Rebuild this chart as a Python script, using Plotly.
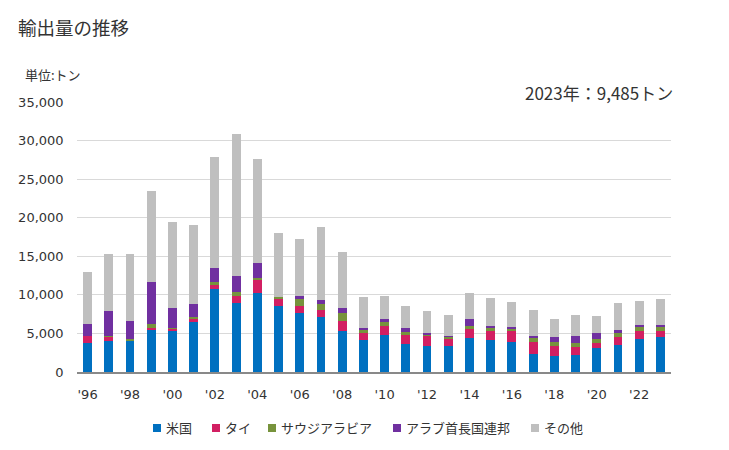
import plotly.graph_objects as go

years = list(range(1996, 2024))
usa = [3800, 4060, 4060, 5450, 5360, 6480, 10800, 8990, 10290, 8600, 7690, 7170, 5360, 4190,
       4840, 3670, 3410, 3330, 4380, 4130, 3870, 2320, 2060, 2230, 3090, 3520, 4300, 4560]
thai = [910, 560, 50, 300, 260, 430, 570, 910, 1680, 910, 910, 910, 1300, 910,
        1170, 1170, 1300, 990, 1210, 1200, 1420, 1550, 1290, 990, 650, 990, 990, 730]
saudi = [0, 90, 210, 520, 130, 260, 250, 510, 260, 260, 910, 780, 1030, 390,
         520, 390, 130, 260, 340, 340, 380, 510, 520, 520, 510, 520, 510, 510]
uae = [1560, 3240, 2340, 5440, 2590, 1690, 1910, 2080, 1940, 0, 390, 520, 650, 260,
       380, 520, 260, 130, 950, 260, 130, 260, 640, 900, 780, 380, 260, 260]
other = [6730, 7390, 8680, 11800, 11150, 10240, 14390, 18410, 13490, 8290, 7390, 9460, 7260, 4020,
         2990, 2850, 2850, 2720, 3300, 3610, 3220, 3350, 2320, 2710, 2190, 3490, 3090, 3425]

series_names = ["米国", "タイ", "サウジアラビア", "アラブ首長国連邦", "その他"]
series_values = [usa, thai, saudi, uae, other]
colors = ["#0070C0", "#D21F62", "#77933C", "#7030A0", "#BFBFBF"]

tick_years = list(range(1996, 2024, 2))
tick_labels = ["'" + str(y)[2:] for y in tick_years]

FONT = "DejaVu Sans, Noto Sans CJK JP"
JFONT = "Noto Sans CJK JP"
TXT = "#333333"
L, T, R, B = 77, 102, 671, 372
PW, PH = R - L, B - T


def px(x):
    return (x - L) / PW


def py(y):
    return (B - y) / PH


fig = go.Figure()
for name, vals, col in zip(series_names, series_values, colors):
    fig.add_trace(go.Bar(x=years, y=vals, name=name, marker_color=col,
                         marker_line_width=0, showlegend=False))

fig.update_layout(
    barmode="stack",
    bargap=0.58,
    width=729, height=450,
    margin=dict(l=L, r=729 - R, t=T, b=450 - B, autoexpand=False),
    paper_bgcolor="white", plot_bgcolor="white",
    font=dict(family=FONT, size=13, color=TXT),
    showlegend=False,
)

# custom legend (compact like the reference)
leg_sq_x = [153, 212, 268, 393, 531]
for name, col, sx in zip(series_names, colors, leg_sq_x):
    fig.add_shape(type="rect", xref="paper", yref="paper",
                  x0=px(sx), x1=px(sx + 8), y0=py(432), y1=py(424),
                  fillcolor=col, line_width=0)
    fig.add_annotation(text=name, xref="paper", yref="paper",
                       x=px(sx + 11), y=py(427), xanchor="left", yanchor="middle",
                       showarrow=False, font=dict(size=13, color=TXT, family=JFONT))

fig.add_annotation(text="輸出量の推移", xref="paper", yref="paper",
                   x=px(16), y=py(27), xanchor="left", yanchor="middle",
                   showarrow=False, font=dict(size=18.5, color=TXT, family=JFONT))
fig.add_annotation(text="単位:トン", xref="paper", yref="paper",
                   x=px(23), y=py(75), xanchor="left", yanchor="middle",
                   showarrow=False, font=dict(size=13, color=TXT, family=JFONT))
fig.add_annotation(text="2023年：9,485トン", xref="paper", yref="paper",
                   x=px(675), y=py(92), xanchor="right", yanchor="middle",
                   showarrow=False, font=dict(size=17, color=TXT, family=JFONT))

fig.update_xaxes(range=[1995.5, 2023.5], tickvals=tick_years, ticktext=tick_labels,
                 showgrid=False, showline=True, linecolor="#898989", linewidth=1.5,
                 ticks="", ticklabelstandoff=10,
                 tickfont=dict(size=13, color=TXT), automargin=False)
fig.update_yaxes(range=[0, 35000], dtick=5000, tickformat=",d", showgrid=True,
                 gridcolor="#D9D9D9", gridwidth=1, zeroline=False, ticks="",
                 tickfont=dict(size=13, color=TXT), ticksuffix="   ", automargin=False)

fig.write_html("out.html", config={"displayModeBar": False},
               post_script="document.body.style.margin='0';document.body.style.padding='0';")
